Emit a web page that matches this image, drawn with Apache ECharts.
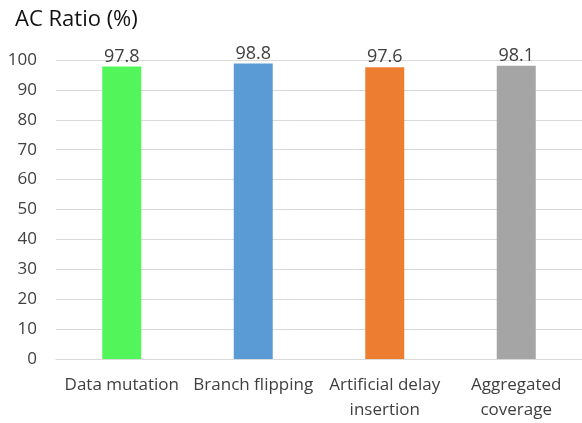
<!DOCTYPE html>
<html>
<head>
<meta charset="utf-8">
<script src="https://cdn.jsdelivr.net/npm/echarts@6/dist/echarts.min.js"></script>
<style>
  html, body { margin: 0; padding: 0; background: #fff; }
  #chart { width: 582px; height: 423px; }
</style>
</head>
<body>
<div id="chart"></div>
<script>
// Coverage ratio per technique
const categories = ['Data mutation', 'Branch flipping', 'Artificial delay\ninsertion', 'Aggregated\ncoverage'];
const ratios = [97.8, 98.8, 97.6, 98.1];
const barColors = ['#52F65A', '#5B9BD5', '#ED7D31', '#A5A5A5'];
const yTicks = { min: 0, max: 100, interval: 10 };

const FONT = 'Open Sans';

const chart = echarts.init(document.getElementById('chart'), null, { renderer: 'canvas' });
chart.setOption({
  animation: false,
  title: {
    text: 'AC Ratio (%)',
    left: 10,
    top: 4,
    textStyle: { fontFamily: FONT, fontSize: 22, fontWeight: 'normal', color: '#111' }
  },
  grid: { left: 56, right: 0, top: 60, bottom: 63 },
  xAxis: {
    type: 'category',
    data: categories,
    axisTick: { show: false },
    axisLine: { lineStyle: { color: '#d9d9d9', width: 1 } },
    axisLabel: {
      fontFamily: FONT, fontSize: 17, color: '#404040',
      margin: 14, lineHeight: 25, interval: 0
    }
  },
  yAxis: {
    type: 'value',
    min: yTicks.min, max: yTicks.max, interval: yTicks.interval,
    axisLine: { show: false },
    axisTick: { show: false },
    splitLine: { lineStyle: { color: '#d9d9d9', width: 1 } },
    axisLabel: { fontFamily: FONT, fontSize: 17, color: '#404040', margin: 19 }
  },
  series: [{
    type: 'bar',
    barWidth: 39,
    data: ratios.map((v, i) => ({ value: v, itemStyle: { color: barColors[i] } })),
    label: {
      show: true,
      position: 'top',
      distance: 1,
      fontFamily: FONT, fontSize: 18, color: '#404040',
      formatter: p => p.value.toFixed(1)
    }
  }]
});
</script>
</body>
</html>
